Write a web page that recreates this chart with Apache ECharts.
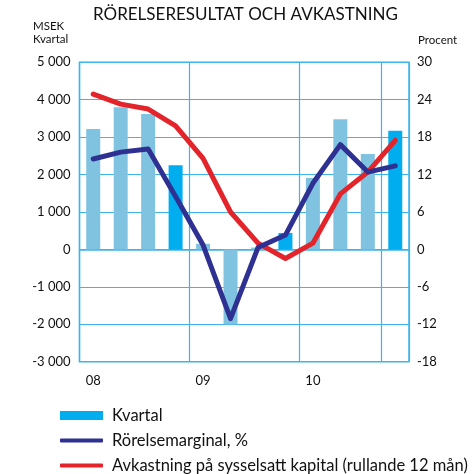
<!DOCTYPE html>
<html><head><meta charset="utf-8">
<script src="https://cdn.jsdelivr.net/npm/echarts@6/dist/echarts.min.js"></script>
<style>html,body{margin:0;padding:0;background:#fff}#c{width:472px;height:474px}</style>
</head><body><div id="c"></div>
<script>
var categories = ['08','','','','09','','','','10','','',''];
var quarterIsQ4 = [false,false,false,true,false,false,false,true,false,false,false,true];
var kvartal = [3220, 3800, 3620, 2250, 150, -2000, 50, 440, 1910, 3480, 2550, 3170];
var rorelsemarginal = [14.5, 15.6, 16.1, 8.5, 0.7, -11.1, 0.3, 2.3, 10.6, 16.8, 12.4, 13.4];
var avkastning = [24.9, 23.3, 22.5, 19.8, 14.6, 6.0, 1.0, -1.45, 1.0, 8.9, 12.4, 17.5];
var leftTicks = {min: -3000, max: 5000, interval: 1000};
var rightTicks = {min: -18, max: 30, interval: 6};

var FONT = 'Lato';
var LIGHT = '#80C3E1', DARK = '#00AEEF', NAVY = '#2E3192', RED = '#E3242B', GRID = '#3FB4E6';

function fmt(v){
  var s = Math.abs(v).toString().replace(/\B(?=(\d{3})+(?!\d))/g, ' ');
  return (v < 0 ? '-' : '') + s;
}

var legendText = {fontSize: 16.5, color: '#111', fontFamily: FONT, padding: [0, 0, 0, 4]};

var chart = echarts.init(document.getElementById('c'), null, {renderer: 'canvas'});
chart.setOption({
  animation: false,
  textStyle: {fontFamily: FONT},
  grid: {left: 79.5, right: 63, top: 62.3, bottom: 112.3, show: true, borderColor: GRID, borderWidth: 1.5, containLabel: false},
  graphic: [
    {type: 'text', left: 93, top: 6, style: {text: 'RÖRELSERESULTAT OCH AVKASTNING', font: '17px ' + FONT, fill: '#111'}},
    {type: 'text', left: 33, top: 20, style: {text: 'MSEK\nKvartal', font: '11.5px ' + FONT, fill: '#111', lineHeight: 13}},
    {type: 'text', left: 418, top: 34, style: {text: 'Procent', font: '11.5px ' + FONT, fill: '#111'}}
  ],
  xAxis: {
    type: 'category', data: categories, boundaryGap: true,
    axisLine: {show: true, lineStyle: {color: GRID, width: 1.5}},
    axisTick: {show: true, interval: 3, length: 2, lineStyle: {color: GRID}},
    axisLabel: {interval: 0, margin: 13, color: '#111', fontSize: 13, fontFamily: FONT},
    splitLine: {show: true, interval: 3, lineStyle: {color: GRID, width: 1.2}}
  },
  yAxis: [
    {type: 'value', min: leftTicks.min, max: leftTicks.max, interval: leftTicks.interval,
     axisLine: {show: false}, axisTick: {show: false},
     axisLabel: {formatter: fmt, color: '#111', fontSize: 13, fontFamily: FONT, margin: 9},
     splitLine: {show: true, lineStyle: {color: GRID, width: 1.2}}},
    {type: 'value', min: rightTicks.min, max: rightTicks.max, interval: rightTicks.interval,
     axisLine: {show: false}, axisTick: {show: false},
     axisLabel: {color: '#111', fontSize: 13, fontFamily: FONT, margin: 8},
     splitLine: {show: false}}
  ],
  legend: [
    {data: ['Kvartal'], left: 60, top: 407, padding: 0, itemWidth: 43, itemHeight: 9, itemGap: 10,
     icon: 'rect', textStyle: legendText},
    {data: ['Rörelsemarginal, %'], left: 60, top: 432, padding: 0, itemWidth: 43, itemHeight: 4, itemGap: 10,
     icon: 'roundRect', textStyle: legendText},
    {data: ['Avkastning på sysselsatt kapital (rullande 12 mån)'], left: 60, top: 457, padding: 0, itemWidth: 43, itemHeight: 4, itemGap: 10,
     icon: 'roundRect', textStyle: legendText}
  ],
  series: [
    {name: 'Kvartal', type: 'bar', barWidth: 14, itemStyle: {color: DARK},
     data: kvartal.map(function(v, i){ return {value: v, itemStyle: {color: quarterIsQ4[i] ? DARK : LIGHT}}; }), z: 2},
    {name: 'Rörelsemarginal, %', type: 'line', yAxisIndex: 1, data: rorelsemarginal, symbol: 'none',
     itemStyle: {color: NAVY}, lineStyle: {color: NAVY, width: 5, cap: 'round', join: 'round'}, z: 4},
    {name: 'Avkastning på sysselsatt kapital (rullande 12 mån)', type: 'line', yAxisIndex: 1, data: avkastning, symbol: 'none',
     itemStyle: {color: RED}, lineStyle: {color: RED, width: 5, cap: 'round', join: 'round'}, z: 3}
  ]
});
</script></body></html>
